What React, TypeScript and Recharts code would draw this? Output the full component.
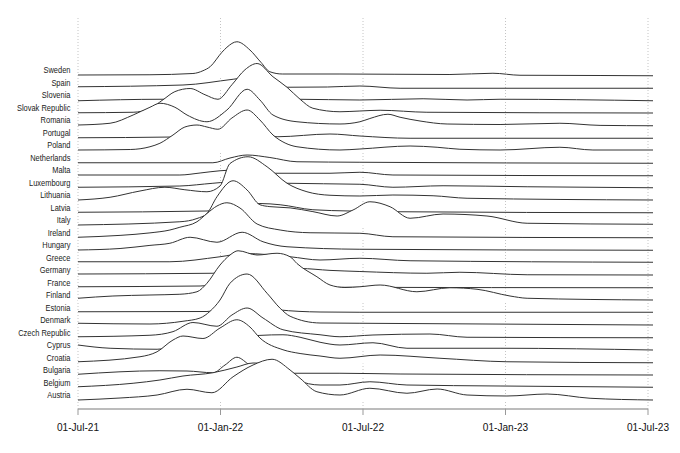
import { ComposedChart, Area, XAxis, YAxis, CartesianGrid, ReferenceLine } from "recharts";

// countries from the bottom row up
const countries = [
  "Austria", "Belgium", "Bulgaria", "Croatia", "Cyprus", "Czech Republic", "Denmark",
  "Estonia", "Finland", "France", "Germany", "Greece", "Hungary", "Ireland", "Italy",
  "Latvia", "Lithuania", "Luxembourg", "Malta", "Netherlands", "Poland", "Portugal",
  "Romania", "Slovak Republic", "Slovenia", "Spain", "Sweden",
];

// [months since 01-Jul-21, ridge height in row units]
const austria = [[0,.08],[1.77,.24],[3.33,.48],[4.59,.94],[5.64,.66],[6.53,1.94],[7.37,2.88],[8.17,3.34],[8.93,2.48],[9.35,1.82],[10.06,.74],[11.03,.48],[12.29,1.02],[13.85,.62],[15.12,.96],[16.38,.48],[18.06,.4],[19.75,.56],[21.56,.22],[24.21,.08]];
const belgium = [[0,.14],[2.32,.42],[3.45,.68],[4.42,1.0],[5.68,1.26],[6.69,1.72],[7.37,2.04],[7.96,2.0],[8.51,1.6],[9.22,.68],[10.19,.28],[11.03,.28],[12.29,.54],[13.85,.28],[17.77,.2],[24.21,.1]];
const bulgaria = [[0,.14],[3.45,.42],[4.59,.4],[5.68,.26],[6.19,.88],[6.69,1.5],[7.24,.88],[7.9,.5],[9.05,.22],[11.03,.22],[13.56,.16],[24.21,.08]];
const croatia = [[0,.14],[2.61,.54],[3.33,.94],[4.0,1.88],[4.42,2.2],[5.26,2.0],[5.98,2.84],[6.69,3.5],[7.24,2.92],[7.66,2.04],[8.63,1.1],[9.35,.8],[10.19,.6],[11.03,.42],[12.72,.68],[15.24,.42],[18.06,.14],[24.21,.06]];
const cyprus = [[0,.48],[1.35,.22],[3.33,.14],[4.5,.5],[6.5,1.0],[7.66,1.25],[8.63,1.3],[9.35,1.1],[10.19,.7],[11.03,.48],[12.42,.66],[13.85,.22],[17.77,.22],[24.21,.08]];
const czech = [[0,.14],[3.03,.26],[4.0,.55],[4.84,1.28],[5.85,.98],[6.48,1.88],[7.12,2.44],[7.79,1.64],[8.63,.7],[10.19,.3],[11.03,.14],[12.42,.28],[14.82,.36],[16.38,.1],[24.21,.06]];
const denmark = [[0,.22],[3.03,.16],[4.42,.38],[5.14,.64],[5.56,1.18],[5.98,2.08],[6.4,3.42],[7.12,4.16],[7.96,2.62],[8.51,1.42],[8.93,.78],[10.19,.24],[11.87,.22],[24.21,.08]];
const estonia = [[0,.14],[5.43,.16],[6.5,.5],[7.8,.6],[8.42,.3],[10.19,.12],[11.87,.1],[24.21,.1]];
const finland = [[0,.22],[1.47,.4],[3.03,.48],[4.29,.54],[5.01,.74],[5.43,1.42],[5.98,2.88],[6.4,3.68],[6.74,4.02],[7.54,3.68],[8.38,3.82],[8.93,3.54],[9.22,3.0],[10.06,1.94],[10.61,1.28],[11.24,1.08],[11.87,1.14],[12.72,1.28],[14.27,.74],[15.66,1.06],[16.8,.94],[18.19,.4],[18.91,.22],[24.21,.08]];
const france = [[0,.14],[5.14,.2],[7.0,.5],[10.61,.1],[24.21,.06]];
const germany = [[0,.16],[5.68,.22],[7.0,.6],[9.35,.6],[10.61,.45],[11.87,.36],[14.69,.22],[16.08,.3],[18.91,.1],[24.21,.08]];
const greece = [[0,.14],[3.87,.14],[5.98,.54],[7.0,.8],[8.93,.54],[10.19,.28],[11.87,.42],[13.98,.22],[24.21,.1]];
const hungary = [[0,.08],[1.77,.2],[3.03,.45],[3.87,.62],[4.72,1.1],[5.85,.7],[6.91,1.5],[7.79,.74],[8.8,.34],[11.87,.14],[24.21,.06]];
const ireland = [[0,.1],[1.77,.25],[3.03,.45],[3.87,.68],[4.29,.9],[5.01,1.34],[5.43,2.0],[5.85,2.6],[6.27,2.86],[6.82,2.44],[7.54,1.16],[8.51,.68],[9.77,.46],[11.87,.42],[13.26,.14],[24.21,.06]];
const italy = [[0,.08],[4.29,.34],[5.01,.6],[5.43,1.0],[5.85,2.34],[6.53,3.62],[7.12,2.88],[7.66,1.7],[8.08,1.55],[8.93,1.45],[9.89,1.15],[10.91,.8],[11.58,1.28],[12.29,1.94],[13.14,1.54],[13.98,.62],[15.37,.96],[17.22,.8],[18.91,.22],[24.21,.14]];
const latvia = [[0,.1],[5.43,.2],[6.4,.5],[7.24,.75],[7.66,.8],[8.51,.7],[9.89,.3],[11.45,.2],[13.56,.14],[24.21,.06]];
const lithuania = [[0,.08],[1.35,.3],[2.61,.8],[3.66,1.1],[4.5,.9],[5.43,.74],[5.98,1.2],[6.4,3.0],[7.16,3.54],[7.96,2.74],[8.8,1.42],[9.64,.74],[10.61,.46],[11.87,.4],[13.26,.48],[14.95,.42],[16.38,.22],[24.21,.08]];
const luxembourg = [[0,.1],[4.29,.2],[5.68,.42],[7.0,.6],[8.8,.42],[11.87,.34],[13.26,.1],[15.37,.22],[18.91,.14],[24.21,.06]];
const malta = [[0,.08],[4.29,.08],[5.14,.24],[5.98,.42],[7.0,.5],[8.21,.22],[10.61,.22],[11.87,.3],[13.26,.08],[24.21,.02]];
const netherlands = [[0,.06],[5.68,.06],[6.4,.44],[7.12,.68],[8.08,.48],[9.22,.14],[11.87,.1],[24.21,.02]];
const poland = [[0,.08],[2.2,.12],[3.03,.34],[3.45,.62],[4.0,1.28],[4.5,1.92],[5.01,2.08],[5.43,1.92],[5.89,1.74],[6.48,2.64],[7.12,3.28],[7.66,2.48],[8.21,1.28],[8.72,.64],[9.22,.34],[11.03,.08],[11.87,.16],[13.98,.4],[15.12,.3],[16.08,.14],[17.77,.08],[20.29,.3],[21.68,.08],[24.21,.08]];
const portugal = [[0,.06],[4.0,.12],[5.5,.5],[7.2,.6],[8.38,.14],[10.61,.36],[11.87,.2],[13.98,.02],[24.21,.02]];
const romania = [[0,.08],[1.35,.22],[2.32,.88],[3.03,1.5],[3.45,1.82],[4.08,1.5],[4.59,.88],[5.43,.34],[6.27,1.28],[7.12,2.94],[7.66,2.08],[8.21,.88],[9.22,.34],[11.03,.16],[11.87,.34],[12.29,.6],[13.05,.94],[13.56,.7],[14.4,.4],[15.54,.16],[17.77,.12],[20.29,.22],[21.98,.05],[24.21,.02]];
const slovakia = [[0,.06],[2.32,.1],[3.03,.4],[3.58,1.1],[4.08,1.75],[4.72,2.0],[5.35,1.5],[5.89,1.14],[6.48,2.3],[7.03,3.5],[7.54,4.0],[8.21,2.94],[8.8,2.1],[9.35,1.14],[9.89,.42],[11.03,.14],[11.87,.2],[12.72,.26],[14.69,.1],[24.21,.04]];
const slovenia = [[0,.02],[3.58,.14],[6,.1],[9.22,.14],[11.87,.08],[14.53,.18],[16.38,.08],[17.77,.14],[24.21,.02]];
const spain = [[0,.14],[4.42,.28],[6.53,.74],[7.24,.9],[8.29,.4],[8.72,.1],[10.5,.12],[11.87,.2],[13.56,.02],[24.21,.02]];
const sweden = [[0,.08],[3.03,.1],[4.84,.2],[5.26,.42],[5.56,.74],[6.06,1.9],[6.27,2.3],[6.69,2.74],[7.24,2.08],[7.7,1.1],[8.08,.34],[8.6,.16],[11.03,.16],[15.66,.12],[17.47,.22],[18.61,.06],[21.98,.04],[24.21,.02]];

const ridges = [
  austria, belgium, bulgaria, croatia, cyprus, czech, denmark, estonia, finland, france,
  germany, greece, hungary, ireland, italy, latvia, lithuania, luxembourg, malta,
  netherlands, poland, portugal, romania, slovakia, slovenia, spain, sweden,
];

const monthTicks = [0, 6, 12, 18, 24];
const monthLabels = ["01-Jul-21", "01-Jan-22", "01-Jul-22", "01-Jan-23", "01-Jul-23"];

const X_MAX = 24.21;
const LABEL_OFFSET = 0.48;
const FONT = "'Liberation Sans', Arial, sans-serif";

function CountryTick({ y, payload }: any) {
  const i = Math.round(payload.value - LABEL_OFFSET);
  return (
    <text
      transform={`translate(70.5, ${y}) scale(0.87, 1)`}
      textAnchor="end"
      dy="0.35em"
      fontSize={8.6}
      fontFamily={FONT}
      fill="#1a1a1a"
      stroke="none"
    >
      {countries[i]}
    </text>
  );
}

function DateTick({ x, y, payload }: any) {
  const i = monthTicks.indexOf(payload.value);
  return (
    <text
      transform={`translate(${x}, ${y}) scale(0.87, 1)`}
      textAnchor="middle"
      dy={14.4}
      fontSize={11.6}
      fontFamily={FONT}
      fill="#111"
      stroke="none"
    >
      {monthLabels[i]}
    </text>
  );
}

// vertical grid only at the date ticks (not at the plot edges)
const gridXs = ({ offset }: any) => {
  const left = offset?.left ?? 78;
  const w = offset?.width ?? 575;
  return monthTicks.map((t) => left + (t / X_MAX) * w);
};

export default function App() {
  const order = countries.map((_, i) => i).reverse();
  return (
    <div style={{ position: "absolute", left: 0, top: 0, width: 680, height: 453, background: "#fff" }}>
      <ComposedChart width={680} height={453} margin={{ top: 18, right: 27, bottom: 14, left: 0 }}>
        <CartesianGrid
          horizontal={false}
          stroke="#c4c4c4"
          strokeDasharray="1 2"
          verticalCoordinatesGenerator={gridXs}
        />
        <XAxis
          dataKey="m"
          type="number"
          domain={[0, X_MAX]}
          allowDataOverflow
          ticks={monthTicks}
          interval={0}
          axisLine={false}
          tickLine={{ stroke: "#999" }}
          tickSize={6}
          tickMargin={2}
          height={30}
          tick={<DateTick />}
        />
        <YAxis
          type="number"
          domain={[-0.64, 30.64]}
          allowDataOverflow
          ticks={countries.map((_, i) => i + LABEL_OFFSET)}
          interval={0}
          axisLine={false}
          tickLine={false}
          width={78}
          tick={<CountryTick />}
        />
        {order.map((i) => (
          <Area
            key={countries[i]}
            data={ridges[i].map(([m, h]) => ({ m, v: i + h }))}
            dataKey="v"
            baseValue={i}
            type="monotone"
            stroke="#333"
            strokeWidth={1}
            fill="#fff"
            fillOpacity={1}
            dot={false}
            activeDot={false}
            isAnimationActive={false}
          />
        ))}
        <ReferenceLine
          segment={[{ x: 0, y: -0.64 }, { x: 24, y: -0.64 }]}
          stroke="#a6a6a6"
          strokeWidth={1.5}
        />
      </ComposedChart>
    </div>
  );
}
